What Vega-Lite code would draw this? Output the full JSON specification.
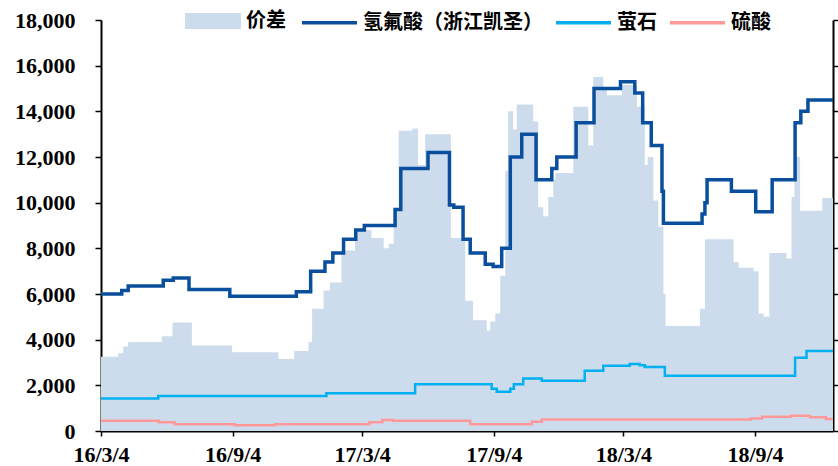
{
  "$schema": "https://vega.github.io/schema/vega-lite/v6.json",
  "width": 732,
  "height": 411,
  "autosize": {"type": "none"},
  "padding": {"left": 101, "top": 20, "right": 5, "bottom": 35},
  "background": "white",
  "config": {
    "view": {"stroke": null},
    "axis": {
      "grid": false,
      "domainColor": "#000000",
      "domainWidth": 2,
      "tickColor": "#000000",
      "tickWidth": 1.5,
      "labelFont": "Liberation Serif",
      "labelFontWeight": "bold",
      "labelFontSize": 22,
      "labelColor": "#000000",
      "title": null
    },
    "legend": {
      "padding": 0,
      "labelFont": "Noto Sans CJK SC",
      "labelFontWeight": "bold",
      "labelFontSize": 20,
      "labelColor": "#000000",
      "labelLimit": 0,
      "title": null
    }
  },
  "datasets": {
    "spread": [
      {"date": "2016-03-04", "value": 3250},
      {"date": "2016-03-28", "value": 3400},
      {"date": "2016-04-04", "value": 3700},
      {"date": "2016-04-11", "value": 3900},
      {"date": "2016-05-28", "value": 4150},
      {"date": "2016-06-12", "value": 4750},
      {"date": "2016-07-09", "value": 3750},
      {"date": "2016-09-03", "value": 3450},
      {"date": "2016-11-07", "value": 3150},
      {"date": "2016-11-29", "value": 3500},
      {"date": "2016-12-19", "value": 3900},
      {"date": "2016-12-24", "value": 5350},
      {"date": "2017-01-09", "value": 6150},
      {"date": "2017-01-18", "value": 6500},
      {"date": "2017-02-03", "value": 7900},
      {"date": "2017-02-22", "value": 8800},
      {"date": "2017-03-17", "value": 8450},
      {"date": "2017-04-03", "value": 8000},
      {"date": "2017-04-10", "value": 8200},
      {"date": "2017-04-17", "value": 9700},
      {"date": "2017-04-24", "value": 13150},
      {"date": "2017-05-13", "value": 13250},
      {"date": "2017-05-21", "value": 11650},
      {"date": "2017-05-31", "value": 13000},
      {"date": "2017-07-06", "value": 8450},
      {"date": "2017-07-26", "value": 5700},
      {"date": "2017-08-06", "value": 4850},
      {"date": "2017-08-25", "value": 4400},
      {"date": "2017-08-30", "value": 4800},
      {"date": "2017-09-06", "value": 5150},
      {"date": "2017-09-13", "value": 6800},
      {"date": "2017-09-20", "value": 11400},
      {"date": "2017-09-24", "value": 14000},
      {"date": "2017-10-01", "value": 13200},
      {"date": "2017-10-06", "value": 14300},
      {"date": "2017-10-29", "value": 13550},
      {"date": "2017-11-05", "value": 9800},
      {"date": "2017-11-12", "value": 9400},
      {"date": "2017-11-19", "value": 10250},
      {"date": "2017-11-26", "value": 11000},
      {"date": "2017-11-29", "value": 11300},
      {"date": "2017-12-24", "value": 14200},
      {"date": "2018-01-14", "value": 12500},
      {"date": "2018-01-21", "value": 15500},
      {"date": "2018-02-04", "value": 15000},
      {"date": "2018-02-09", "value": 14700},
      {"date": "2018-03-02", "value": 15150},
      {"date": "2018-03-23", "value": 14200},
      {"date": "2018-04-03", "value": 11650},
      {"date": "2018-04-07", "value": 12000},
      {"date": "2018-04-15", "value": 10100},
      {"date": "2018-04-22", "value": 8950},
      {"date": "2018-04-29", "value": 6000},
      {"date": "2018-05-02", "value": 4600},
      {"date": "2018-06-19", "value": 5350},
      {"date": "2018-06-26", "value": 8400},
      {"date": "2018-08-05", "value": 7400},
      {"date": "2018-08-12", "value": 7150},
      {"date": "2018-09-02", "value": 7000},
      {"date": "2018-09-09", "value": 5150},
      {"date": "2018-09-16", "value": 5000},
      {"date": "2018-09-24", "value": 7800},
      {"date": "2018-10-18", "value": 7550},
      {"date": "2018-10-25", "value": 10250},
      {"date": "2018-10-29", "value": 12000},
      {"date": "2018-11-06", "value": 9650},
      {"date": "2018-12-07", "value": 10200},
      {"date": "2018-12-22", "value": 10200}
    ],
    "lines": [
      {"date": "2016-03-04", "series": "氢氟酸（浙江凯圣）", "value": 6000},
      {"date": "2016-04-02", "series": "氢氟酸（浙江凯圣）", "value": 6150},
      {"date": "2016-04-11", "series": "氢氟酸（浙江凯圣）", "value": 6350},
      {"date": "2016-05-30", "series": "氢氟酸（浙江凯圣）", "value": 6600},
      {"date": "2016-06-13", "series": "氢氟酸（浙江凯圣）", "value": 6700},
      {"date": "2016-07-05", "series": "氢氟酸（浙江凯圣）", "value": 6200},
      {"date": "2016-08-31", "series": "氢氟酸（浙江凯圣）", "value": 5900},
      {"date": "2016-12-02", "series": "氢氟酸（浙江凯圣）", "value": 6100},
      {"date": "2016-12-22", "series": "氢氟酸（浙江凯圣）", "value": 7000},
      {"date": "2017-01-11", "series": "氢氟酸（浙江凯圣）", "value": 7400},
      {"date": "2017-01-22", "series": "氢氟酸（浙江凯圣）", "value": 7800},
      {"date": "2017-02-06", "series": "氢氟酸（浙江凯圣）", "value": 8400},
      {"date": "2017-02-23", "series": "氢氟酸（浙江凯圣）", "value": 8800},
      {"date": "2017-03-07", "series": "氢氟酸（浙江凯圣）", "value": 9000},
      {"date": "2017-04-19", "series": "氢氟酸（浙江凯圣）", "value": 9700},
      {"date": "2017-04-27", "series": "氢氟酸（浙江凯圣）", "value": 11500},
      {"date": "2017-06-04", "series": "氢氟酸（浙江凯圣）", "value": 12200},
      {"date": "2017-07-04", "series": "氢氟酸（浙江凯圣）", "value": 9900},
      {"date": "2017-07-10", "series": "氢氟酸（浙江凯圣）", "value": 9800},
      {"date": "2017-07-23", "series": "氢氟酸（浙江凯圣）", "value": 8400},
      {"date": "2017-08-02", "series": "氢氟酸（浙江凯圣）", "value": 7800},
      {"date": "2017-08-23", "series": "氢氟酸（浙江凯圣）", "value": 7300},
      {"date": "2017-09-03", "series": "氢氟酸（浙江凯圣）", "value": 7200},
      {"date": "2017-09-15", "series": "氢氟酸（浙江凯圣）", "value": 8000},
      {"date": "2017-09-27", "series": "氢氟酸（浙江凯圣）", "value": 12000},
      {"date": "2017-10-13", "series": "氢氟酸（浙江凯圣）", "value": 13000},
      {"date": "2017-11-02", "series": "氢氟酸（浙江凯圣）", "value": 11000},
      {"date": "2017-11-24", "series": "氢氟酸（浙江凯圣）", "value": 11500},
      {"date": "2017-12-01", "series": "氢氟酸（浙江凯圣）", "value": 12000},
      {"date": "2017-12-28", "series": "氢氟酸（浙江凯圣）", "value": 13500},
      {"date": "2018-01-22", "series": "氢氟酸（浙江凯圣）", "value": 15000},
      {"date": "2018-02-28", "series": "氢氟酸（浙江凯圣）", "value": 15300},
      {"date": "2018-03-20", "series": "氢氟酸（浙江凯圣）", "value": 14800},
      {"date": "2018-03-31", "series": "氢氟酸（浙江凯圣）", "value": 13500},
      {"date": "2018-04-12", "series": "氢氟酸（浙江凯圣）", "value": 12500},
      {"date": "2018-04-27", "series": "氢氟酸（浙江凯圣）", "value": 10500},
      {"date": "2018-04-29", "series": "氢氟酸（浙江凯圣）", "value": 9100},
      {"date": "2018-06-22", "series": "氢氟酸（浙江凯圣）", "value": 9500},
      {"date": "2018-06-26", "series": "氢氟酸（浙江凯圣）", "value": 10000},
      {"date": "2018-06-29", "series": "氢氟酸（浙江凯圣）", "value": 11000},
      {"date": "2018-08-02", "series": "氢氟酸（浙江凯圣）", "value": 10500},
      {"date": "2018-09-05", "series": "氢氟酸（浙江凯圣）", "value": 9600},
      {"date": "2018-09-28", "series": "氢氟酸（浙江凯圣）", "value": 11000},
      {"date": "2018-10-30", "series": "氢氟酸（浙江凯圣）", "value": 13500},
      {"date": "2018-11-07", "series": "氢氟酸（浙江凯圣）", "value": 14000},
      {"date": "2018-11-17", "series": "氢氟酸（浙江凯圣）", "value": 14500},
      {"date": "2018-12-22", "series": "氢氟酸（浙江凯圣）", "value": 14500},
      {"date": "2016-03-04", "series": "萤石", "value": 1420},
      {"date": "2016-05-23", "series": "萤石", "value": 1530},
      {"date": "2017-01-13", "series": "萤石", "value": 1650},
      {"date": "2017-05-17", "series": "萤石", "value": 2050},
      {"date": "2017-09-01", "series": "萤石", "value": 1850},
      {"date": "2017-09-08", "series": "萤石", "value": 1720},
      {"date": "2017-09-27", "series": "萤石", "value": 1850},
      {"date": "2017-10-02", "series": "萤石", "value": 2050},
      {"date": "2017-10-15", "series": "萤石", "value": 2300},
      {"date": "2017-11-10", "series": "萤石", "value": 2200},
      {"date": "2018-01-09", "series": "萤石", "value": 2640},
      {"date": "2018-02-04", "series": "萤石", "value": 2860},
      {"date": "2018-03-13", "series": "萤石", "value": 2930},
      {"date": "2018-03-27", "series": "萤石", "value": 2880},
      {"date": "2018-04-03", "series": "萤石", "value": 2800},
      {"date": "2018-05-01", "series": "萤石", "value": 2420},
      {"date": "2018-10-30", "series": "萤石", "value": 3210},
      {"date": "2018-11-15", "series": "萤石", "value": 3500},
      {"date": "2018-12-22", "series": "萤石", "value": 3500},
      {"date": "2016-03-04", "series": "硫酸", "value": 450},
      {"date": "2016-05-24", "series": "硫酸", "value": 380},
      {"date": "2016-06-15", "series": "硫酸", "value": 300},
      {"date": "2016-09-07", "series": "硫酸", "value": 250},
      {"date": "2016-11-02", "series": "硫酸", "value": 300},
      {"date": "2017-03-14", "series": "硫酸", "value": 380},
      {"date": "2017-04-01", "series": "硫酸", "value": 480},
      {"date": "2017-04-16", "series": "硫酸", "value": 450},
      {"date": "2017-08-02", "series": "硫酸", "value": 300},
      {"date": "2017-10-27", "series": "硫酸", "value": 400},
      {"date": "2017-11-10", "series": "硫酸", "value": 500},
      {"date": "2018-08-29", "series": "硫酸", "value": 550},
      {"date": "2018-09-14", "series": "硫酸", "value": 620},
      {"date": "2018-10-24", "series": "硫酸", "value": 670},
      {"date": "2018-11-20", "series": "硫酸", "value": 600},
      {"date": "2018-12-12", "series": "硫酸", "value": 530},
      {"date": "2018-12-22", "series": "硫酸", "value": 530}
    ]
  },
  "layer": [
    {
      "data": {"name": "spread"},
      "mark": {"type": "area", "interpolate": "step-after"},
      "encoding": {
        "x": {
          "field": "date",
          "type": "temporal",
          "scale": {
            "type": "utc",
            "domain": [
              {"year": 2016, "month": 3, "date": 4, "utc": true},
              {"year": 2018, "month": 12, "date": 22, "utc": true}
            ]
          },
          "axis": {
            "values": [
              {"year": 2016, "month": 3, "date": 4, "utc": true},
              {"year": 2016, "month": 9, "date": 4, "utc": true},
              {"year": 2017, "month": 3, "date": 4, "utc": true},
              {"year": 2017, "month": 9, "date": 4, "utc": true},
              {"year": 2018, "month": 3, "date": 4, "utc": true},
              {"year": 2018, "month": 9, "date": 4, "utc": true}
            ],
            "labelExpr": "utcFormat(datum.value, '%y/%-m/%-d')",
            "tickSize": 5,
            "labelPadding": 8,
            "labelFlush": false,
            "labelOverlap": false,
            "labelBound": false
          }
        },
        "y": {
          "field": "value",
          "type": "quantitative",
          "scale": {"domain": [0, 18000], "nice": false, "zero": true},
          "axis": {
            "values": [0, 2000, 4000, 6000, 8000, 10000, 12000, 14000, 16000, 18000],
            "labelExpr": "format(datum.value, ',.0f')",
            "tickSize": 6,
            "labelPadding": 20,
            "labelOverlap": false,
            "labelBound": false
          }
        },
        "fill": {
          "datum": "价差",
          "scale": {"domain": ["价差"], "range": ["#ccdcec"]},
          "legend": {
            "orient": "none",
            "legendX": 84,
            "legendY": -27,
            "symbolType": "M-1,-0.2857H1V0.2857H-1Z",
            "symbolSize": 3136,
            "symbolStrokeWidth": 0,
            "labelOffset": 5
          }
        }
      }
    },
    {
      "data": {"name": "lines"},
      "transform": [{"filter": "datum.series !== '氢氟酸（浙江凯圣）'"}],
      "mark": {"type": "line", "interpolate": "step-after", "strokeWidth": 2.5},
      "encoding": {
        "x": {"field": "date", "type": "temporal"},
        "y": {"field": "value", "type": "quantitative", "axis": null},
        "stroke": {
          "field": "series",
          "type": "nominal",
          "scale": {
            "domain": ["氢氟酸（浙江凯圣）", "萤石", "硫酸"],
            "range": ["#0a4f9e", "#00b0f0", "#ff9999"]
          },
          "legend": {
            "orient": "none",
            "legendX": 199,
            "legendY": -27,
            "direction": "horizontal",
            "symbolType": "stroke",
            "symbolSize": 3025,
            "symbolStrokeWidth": 3.5,
            "labelOffset": 4,
            "columnPadding": 6
          }
        }
      }
    },
    {
      "data": {"name": "lines"},
      "transform": [{"filter": "datum.series === '氢氟酸（浙江凯圣）'"}],
      "mark": {"type": "line", "interpolate": "step-after", "strokeWidth": 3.5},
      "encoding": {
        "x": {"field": "date", "type": "temporal"},
        "y": {"field": "value", "type": "quantitative", "axis": null},
        "stroke": {"field": "series", "type": "nominal"}
      }
    },
    {
      "data": {"name": "spread"},
      "mark": {"type": "line", "opacity": 0},
      "encoding": {
        "x": {"field": "date", "type": "temporal"},
        "y": {
          "field": "value",
          "type": "quantitative",
          "axis": {
            "orient": "right",
            "values": [0, 2000, 4000, 6000, 8000, 10000, 12000, 14000, 16000, 18000],
            "labels": false,
            "tickSize": 5
          }
        }
      }
    }
  ],
  "resolve": {"axis": {"y": "independent"}}
}
